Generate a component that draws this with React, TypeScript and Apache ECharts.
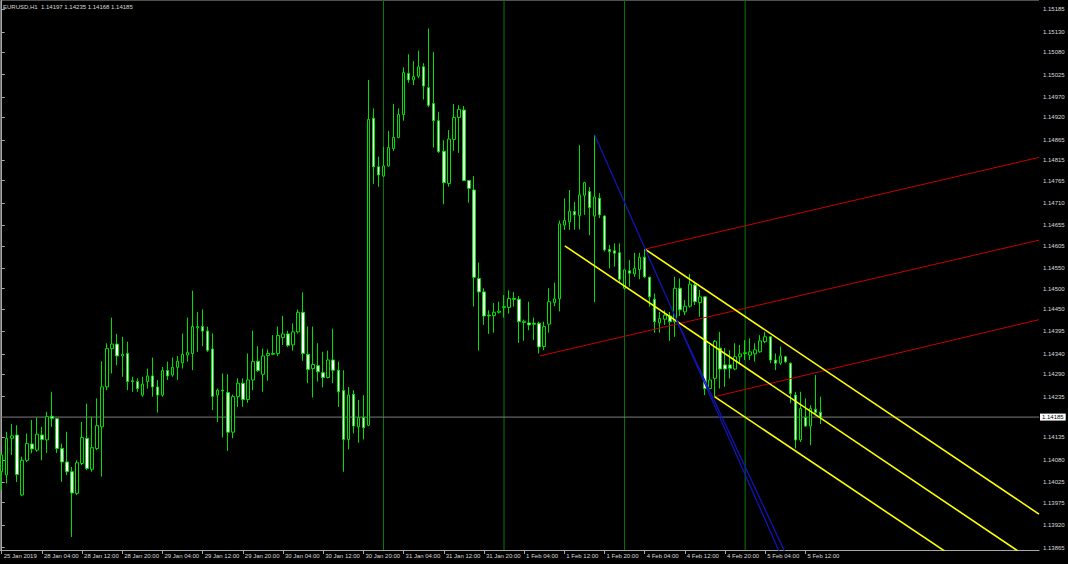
import { useEffect, useRef } from "react";
import * as echarts from "echarts";

// EURUSD hourly candles, 25 Jan 2019 20:00 .. 5 Feb 2019 15:00
const SYMBOL = "EURUSD";
const PERIOD = "H1";
const FIRST_BAR_UTC = Date.UTC(2019, 0, 25, 20);
const SLOT_COUNT = 207; // bar slots across the chart, including the empty space after the last bar

const OPEN = [
  1.14051, 1.14043, 1.14133, 1.14141, 1.13994, 1.14079, 1.14119, 1.14104, 1.14141, 1.14129,
  1.14187, 1.14181, 1.14108, 1.14075, 1.14051, 1.13998, 1.14071, 1.14133, 1.14057, 1.14108,
  1.14161, 1.14259, 1.14353, 1.14364, 1.14335, 1.14341, 1.14274, 1.14272, 1.14239, 1.14272,
  1.14286, 1.14259, 1.14239, 1.14299, 1.14288, 1.14307, 1.14318, 1.14337, 1.14341, 1.14404,
  1.14407, 1.14396, 1.14352, 1.14239, 1.14251, 1.14245, 1.14148, 1.14235, 1.14268, 1.14228,
  1.14276, 1.14322, 1.1429, 1.14336, 1.14339, 1.14341, 1.1438, 1.14389, 1.14362, 1.14394,
  1.14442, 1.14339, 1.14304, 1.14311, 1.14294, 1.14282, 1.14325, 1.143, 1.1425, 1.1413,
  1.14241, 1.14161, 1.14184, 1.14165, 1.14918, 1.14799, 1.14776, 1.14801, 1.14844, 1.14871,
  1.14927, 1.15028, 1.15012, 1.15021, 1.15044, 1.14993, 1.14954, 1.14912, 1.14837, 1.14758,
  1.14866, 1.1492, 1.14938, 1.14765, 1.14742, 1.14525, 1.14492, 1.14435, 1.14434, 1.14442,
  1.14454, 1.14454, 1.14476, 1.14474, 1.14417, 1.14416, 1.14415, 1.14415, 1.14358, 1.14413,
  1.14466, 1.14475, 1.14656, 1.14664, 1.14689, 1.14679, 1.14729, 1.14738, 1.14678, 1.14722,
  1.14678, 1.14596, 1.14593, 1.14588, 1.14501, 1.14544, 1.14536, 1.14547, 1.14577, 1.14528,
  1.14474, 1.14416, 1.14425, 1.14433, 1.14419, 1.14501, 1.14443, 1.14457, 1.14509, 1.14466,
  1.1448, 1.14255, 1.1428, 1.14354, 1.14313, 1.14313, 1.14303, 1.14333, 1.14341, 1.14337,
  1.1434, 1.14345, 1.1437, 1.14382, 1.14325, 1.14317, 1.14333, 1.14317, 1.14239, 1.14129,
  1.14184, 1.14163, 1.14204, 1.14197,
];
const HIGH = [
  1.14096, 1.14149, 1.14168, 1.14165, 1.14088, 1.14145, 1.14178, 1.14184, 1.14161, 1.14198,
  1.14247, 1.14183, 1.1412, 1.14149, 1.14063, 1.14079, 1.14173, 1.14218, 1.14186, 1.14231,
  1.14322, 1.14366, 1.14429, 1.14389, 1.14382, 1.1437, 1.14284, 1.1428, 1.14284, 1.14304,
  1.14331, 1.14276, 1.14308, 1.14321, 1.14331, 1.14335, 1.1439, 1.14429, 1.14495, 1.14443,
  1.14449, 1.14407, 1.1439, 1.14255, 1.14292, 1.1429, 1.1424, 1.1428, 1.1428, 1.14341,
  1.14397, 1.14359, 1.14353, 1.14351, 1.14386, 1.14407, 1.14433, 1.14397, 1.14415, 1.14449,
  1.14491, 1.14407, 1.14407, 1.14366, 1.14345, 1.14348, 1.14402, 1.14321, 1.143, 1.14259,
  1.14251, 1.14227, 1.14239, 1.15012, 1.14942, 1.14824, 1.14848, 1.14887, 1.14953, 1.14942,
  1.15043, 1.15075, 1.15058, 1.15084, 1.15053, 1.15138, 1.15081, 1.14934, 1.14864, 1.14889,
  1.14953, 1.1495, 1.14948, 1.14766, 1.14776, 1.14564, 1.14501, 1.14447, 1.14465, 1.14468,
  1.14484, 1.14496, 1.14492, 1.14482, 1.14424, 1.14468, 1.14429, 1.14419, 1.14419, 1.14501,
  1.14515, 1.14667, 1.14721, 1.14742, 1.14713, 1.14852, 1.14762, 1.14749, 1.14877, 1.14734,
  1.1468, 1.14607, 1.14611, 1.14611, 1.14547, 1.1457, 1.14588, 1.14588, 1.14597, 1.14529,
  1.14488, 1.14443, 1.14447, 1.14443, 1.14529, 1.14525, 1.14472, 1.14536, 1.14517, 1.14497,
  1.14482, 1.14362, 1.14374, 1.14394, 1.14354, 1.14349, 1.14366, 1.14362, 1.14374, 1.14378,
  1.14366, 1.14386, 1.14394, 1.14384, 1.14341, 1.14358, 1.14335, 1.14319, 1.14247, 1.14247,
  1.14231, 1.14214, 1.14288, 1.14235,
];
const LOW = [
  1.14006, 1.14022, 1.14092, 1.14026, 1.13991, 1.14075, 1.14096, 1.141, 1.14079, 1.14097,
  1.14161, 1.14097, 1.14026, 1.14043, 1.13891, 1.13994, 1.14067, 1.14055, 1.14051, 1.14104,
  1.14039, 1.14251, 1.14292, 1.14312, 1.14284, 1.14251, 1.14247, 1.14247, 1.14235, 1.14255,
  1.14235, 1.14196, 1.14235, 1.14276, 1.14284, 1.14276, 1.14304, 1.14321, 1.143, 1.14345,
  1.14359, 1.14345, 1.14202, 1.14173, 1.14135, 1.14102, 1.14133, 1.1421, 1.1421, 1.1422,
  1.14251, 1.14296, 1.14247, 1.14274, 1.14337, 1.14335, 1.14362, 1.14357, 1.14348, 1.1439,
  1.14323, 1.14268, 1.14233, 1.14272, 1.14258, 1.1428, 1.14268, 1.1421, 1.14051, 1.14106,
  1.14145, 1.14122, 1.1413, 1.14163, 1.14757, 1.1475, 1.14775, 1.14799, 1.14838, 1.14869,
  1.14912, 1.15005, 1.14999, 1.15016, 1.14964, 1.14945, 1.14846, 1.14833, 1.14707, 1.1475,
  1.14838, 1.14833, 1.14764, 1.14711, 1.14456, 1.14348, 1.14411, 1.14389, 1.14392, 1.14439,
  1.14429, 1.14439, 1.14456, 1.14367, 1.14372, 1.14398, 1.14374, 1.14341, 1.14349, 1.14392,
  1.14457, 1.14444, 1.14644, 1.14644, 1.14645, 1.14645, 1.14681, 1.14631, 1.14467, 1.14673,
  1.14591, 1.1455, 1.14554, 1.14517, 1.14498, 1.14505, 1.14529, 1.14523, 1.14526, 1.14456,
  1.14392, 1.14392, 1.14411, 1.14372, 1.14382, 1.14433, 1.14435, 1.14454, 1.1446, 1.14431,
  1.14239, 1.14253, 1.14235, 1.14255, 1.14259, 1.1428, 1.143, 1.14317, 1.14325, 1.14325,
  1.14321, 1.14343, 1.14366, 1.14317, 1.143, 1.14313, 1.14317, 1.14219, 1.14108, 1.14124,
  1.14161, 1.14116, 1.1419, 1.14168,
];
const CLOSE = [
  1.14092, 1.14133, 1.14139, 1.14044, 1.14079, 1.1412, 1.14107, 1.14143, 1.1413, 1.14186,
  1.14182, 1.14108, 1.14075, 1.14051, 1.13999, 1.14073, 1.14135, 1.14059, 1.1411, 1.14164,
  1.14259, 1.14353, 1.14364, 1.14335, 1.14339, 1.14272, 1.14272, 1.14255, 1.14266, 1.14286,
  1.14259, 1.14239, 1.14299, 1.14286, 1.14307, 1.14322, 1.14339, 1.14344, 1.14407, 1.14407,
  1.14396, 1.14349, 1.14236, 1.14251, 1.14249, 1.14148, 1.14235, 1.14268, 1.14228, 1.14276,
  1.14321, 1.14299, 1.14335, 1.14341, 1.14341, 1.14385, 1.14389, 1.14361, 1.14394, 1.14442,
  1.14341, 1.14302, 1.14314, 1.14296, 1.14282, 1.14325, 1.143, 1.14247, 1.1413, 1.14239,
  1.14163, 1.14184, 1.14159, 1.14915, 1.14799, 1.14779, 1.14801, 1.14846, 1.14871, 1.14927,
  1.1503, 1.15012, 1.1502, 1.15044, 1.14997, 1.1495, 1.14912, 1.14836, 1.1476, 1.14867,
  1.1492, 1.1494, 1.14765, 1.14746, 1.14528, 1.14492, 1.14433, 1.14433, 1.14442, 1.14445,
  1.14456, 1.14476, 1.14474, 1.14419, 1.1442, 1.14411, 1.14413, 1.14357, 1.14407, 1.14468,
  1.14475, 1.14659, 1.14667, 1.1469, 1.14681, 1.1473, 1.1476, 1.14699, 1.14725, 1.14681,
  1.14595, 1.14591, 1.14587, 1.14523, 1.14546, 1.14538, 1.1455, 1.14577, 1.14529, 1.1448,
  1.14419, 1.14427, 1.14435, 1.14419, 1.14501, 1.14448, 1.14457, 1.14511, 1.14468, 1.1448,
  1.14255, 1.14276, 1.14371, 1.14303, 1.14303, 1.14305, 1.14333, 1.1434, 1.14343, 1.14345,
  1.1435, 1.14372, 1.14382, 1.14325, 1.14317, 1.14335, 1.14321, 1.14243, 1.14129, 1.14206,
  1.14163, 1.14206, 1.14196, 1.14185,
];

// visible price range of the window
const PRICE_MIN = 1.13859;
const PRICE_MAX = 1.15208;

const PRICE_TICKS = [
  1.15185, 1.1513, 1.1508, 1.15025, 1.1497, 1.1492, 1.14865, 1.14815, 1.14765, 1.1471,
  1.14655, 1.14605, 1.1455, 1.145, 1.1445, 1.14395, 1.1434, 1.1429, 1.14235, 1.14135,
  1.1408, 1.14025, 1.13975, 1.1392, 1.13865,
];

const TIME_TICKS = [
  "25 Jan 2019", "28 Jan 04:00", "28 Jan 12:00", "28 Jan 20:00", "29 Jan 04:00",
  "29 Jan 12:00", "29 Jan 20:00", "30 Jan 04:00", "30 Jan 12:00", "30 Jan 20:00",
  "31 Jan 04:00", "31 Jan 12:00", "31 Jan 20:00", "1 Feb 04:00", "1 Feb 12:00",
  "1 Feb 20:00", "4 Feb 04:00", "4 Feb 12:00", "4 Feb 20:00", "5 Feb 04:00", "5 Feb 12:00",
];

const DAY_SEPARATORS = ["31 Jan 00:00", "1 Feb 00:00", "4 Feb 00:00", "5 Feb 00:00"];

// drawn objects: [bar index, price] anchor pairs
const RED_LINES = [
  [[107.1, 1.14335], [206.5, 1.14619]],
  [[128.05, 1.14597], [206.5, 1.14822]],
  [[141.9, 1.14235], [206.5, 1.14424]],
];
const YELLOW_LINES = [
  [[128.05, 1.14597], [206.5, 1.13947]],
  [[112.1, 1.14605], [204.3, 1.1384]],
  [[141.9, 1.14235], [189.7, 1.1384]],
];
const BLUE_LINES = [
  [[118.05, 1.14877], [155.33, 1.1384]],
  [[134.36, 1.14423], [156.45, 1.1384]],
];

const MONTHS = ["Jan", "Feb", "Mar", "Apr", "May", "Jun", "Jul", "Aug", "Sep", "Oct", "Nov", "Dec"];
const FONT = "'Liberation Sans', Arial, sans-serif";
const FONT_SIZE = 6;
const AXIS_GREY = "#a8a8a8";
const TEXT_GREY = "#dadada";
const CANDLE_GREEN = "#00e000";

function barTimes(count: number): string[] {
  const out: string[] = [];
  let t = FIRST_BAR_UTC;
  while (out.length < count) {
    const d = new Date(t);
    const wd = d.getUTCDay();
    if (wd !== 0 && wd !== 6) {
      const hh = String(d.getUTCHours()).padStart(2, "0");
      out.push(`${d.getUTCDate()} ${MONTHS[d.getUTCMonth()]} ${hh}:00`);
    }
    t += 3600 * 1000;
  }
  return out;
}

const fmt = (v: number) => v.toFixed(5);

function buildOption() {
  const times = barTimes(SLOT_COUNT);
  const last = CLOSE.length - 1;
  const tickLabel = (i: number): string => {
    if (i === 0) return TIME_TICKS[0];
    return TIME_TICKS.includes(times[i]) ? times[i] : "";
  };
  const candles = OPEN.map((o, i) => [o, CLOSE[i], LOW[i], HIGH[i]]);

  const trend = (pts: number[][], color: string, width: number, z: number) => ({
    type: "line",
    xAxisIndex: 1,
    yAxisIndex: 0,
    data: pts,
    symbol: "none",
    silent: true,
    clip: true,
    z,
    lineStyle: { color, width, type: "solid" },
  });

  const separators = DAY_SEPARATORS.map((d) => {
    const i = times.indexOf(d);
    return trend(
      [
        [i, PRICE_MIN],
        [i, PRICE_MAX],
      ],
      "#0a780a",
      1,
      1
    );
  });

  // bid line with the price tag on the scale
  const bidLine = {
    ...trend(
      [
        [-0.5, CLOSE[last]],
        [SLOT_COUNT - 0.5, CLOSE[last]],
      ],
      "#7c7c7c",
      1,
      1
    ),
    endLabel: {
      show: true,
      distance: 1,
      formatter: fmt(CLOSE[last]),
      backgroundColor: "#ffffff",
      color: "#000000",
      fontSize: FONT_SIZE,
      fontFamily: FONT,
      padding: [1, 2, 0, 2],
    },
  };

  return {
    animation: false,
    backgroundColor: "#000000",
    textStyle: { fontFamily: FONT },
    title: {
      text: `${SYMBOL},${PERIOD}  ${fmt(OPEN[last])} ${fmt(HIGH[last])} ${fmt(LOW[last])} ${fmt(CLOSE[last])}`,
      left: 3,
      top: 4,
      padding: 0,
      textStyle: { color: TEXT_GREY, fontSize: FONT_SIZE, fontWeight: "normal", fontFamily: FONT },
    },
    grid: {
      left: -0.8,
      right: 29,
      top: 0,
      bottom: 14,
      show: false,
      containLabel: false,
      outerBoundsMode: "none",
    },
    xAxis: [
      {
        type: "category",
        data: times,
        boundaryGap: true,
        axisLine: { show: true, lineStyle: { color: AXIS_GREY, width: 1 } },
        axisTick: {
          show: true,
          alignWithLabel: true,
          interval: (i: number) => tickLabel(i) !== "",
          length: 4,
          lineStyle: { color: AXIS_GREY },
        },
        axisLabel: {
          interval: (i: number) => tickLabel(i) !== "",
          formatter: (_v: string, i: number) => tickLabel(i),
          showMinLabel: true,
          align: "left",
          verticalAlign: "top",
          margin: 3,
          padding: [0, 0, 0, 2],
          color: TEXT_GREY,
          fontSize: FONT_SIZE,
          fontFamily: FONT,
          hideOverlap: false,
        },
        splitLine: { show: false },
      },
      {
        type: "value",
        min: -0.5,
        max: SLOT_COUNT - 0.5,
        show: false,
        splitLine: { show: false },
      },
    ],
    yAxis: {
      type: "value",
      position: "right",
      min: PRICE_MIN,
      max: PRICE_MAX,
      axisLine: { show: true, lineStyle: { color: AXIS_GREY, width: 1 } },
      axisTick: { show: true, customValues: PRICE_TICKS, length: 3, lineStyle: { color: AXIS_GREY } },
      axisLabel: {
        customValues: PRICE_TICKS,
        formatter: (v: number) => fmt(v),
        margin: 4,
        color: TEXT_GREY,
        fontSize: FONT_SIZE,
        fontFamily: FONT,
      },
      splitLine: { show: false },
    },
    graphic: [
      {
        type: "line",
        shape: { x1: 0.5, y1: 0, x2: 0.5, y2: 550 },
        style: { stroke: "#707070", lineWidth: 1 },
        silent: true,
      },
      {
        type: "line",
        shape: { x1: 0, y1: 0.5, x2: 1039, y2: 0.5 },
        style: { stroke: "#505050", lineWidth: 1 },
        silent: true,
      },
    ],
    series: [
      ...separators,
      bidLine,
      {
        type: "candlestick",
        xAxisIndex: 0,
        yAxisIndex: 0,
        data: candles,
        barWidth: 3,
        z: 2,
        itemStyle: {
          color: "#000000",
          color0: "#ffffff",
          borderColor: CANDLE_GREEN,
          borderColor0: CANDLE_GREEN,
          borderWidth: 1,
        },
      },
      ...RED_LINES.map((l) => trend(l, "#c80000", 1, 3)),
      ...YELLOW_LINES.map((l) => trend(l, "#ffff00", 1.6, 4)),
      ...BLUE_LINES.map((l) => trend(l, "#1414b4", 1.3, 4)),
    ],
  };
}

export default function App() {
  const ref = useRef<HTMLDivElement>(null);
  useEffect(() => {
    if (!ref.current) return;
    const chart = echarts.init(ref.current, undefined, { renderer: "svg" });
    chart.setOption(buildOption() as any);
    return () => chart.dispose();
  }, []);
  return (
    <div
      ref={ref}
      style={{ position: "fixed", left: 0, top: 0, width: 1068, height: 564, background: "#000000" }}
    />
  );
}
